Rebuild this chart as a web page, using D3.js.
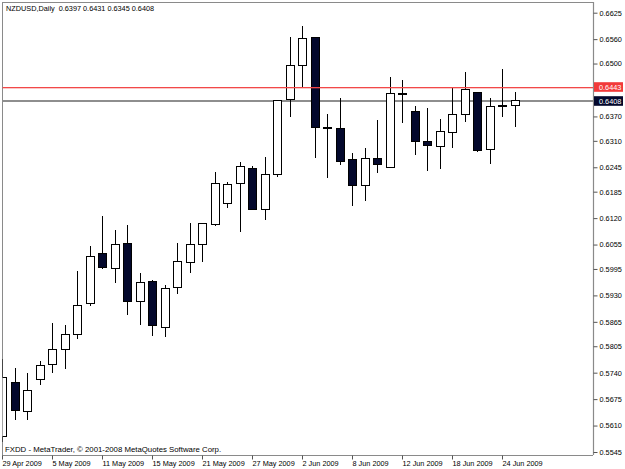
<!DOCTYPE html>
<html>
<head>
<meta charset="utf-8">
<script src="https://cdn.jsdelivr.net/npm/d3@7"></script>
<style>
  html, body { margin: 0; padding: 0; background: #ffffff; }
  svg { display: block; }
  text { font-family: "Liberation Sans", Arial, sans-serif; fill: #000; white-space: pre; }
</style>
</head>
<body>
<svg id="chart" width="625" height="469"></svg>
<script>
// ---- data ----
const dates = ["29 Apr 2009","30 Apr 2009","1 May 2009","4 May 2009","5 May 2009","6 May 2009","7 May 2009","8 May 2009",
  "11 May 2009","12 May 2009","13 May 2009","14 May 2009","15 May 2009","18 May 2009","19 May 2009","20 May 2009",
  "21 May 2009","22 May 2009","25 May 2009","26 May 2009","27 May 2009","28 May 2009","29 May 2009","1 Jun 2009",
  "2 Jun 2009","3 Jun 2009","4 Jun 2009","5 Jun 2009","8 Jun 2009","9 Jun 2009","10 Jun 2009","11 Jun 2009",
  "12 Jun 2009","15 Jun 2009","16 Jun 2009","17 Jun 2009","18 Jun 2009","19 Jun 2009","22 Jun 2009","23 Jun 2009",
  "24 Jun 2009","25 Jun 2009"];
const open  = [0.5583,0.5716,0.5645,0.5724,0.5759,0.5798,0.5833,0.5911,0.6032,0.5997,0.6057,0.5915,0.5965,0.5851,0.5949,0.6011,
  0.6055,0.6105,0.6156,0.6204,0.6243,0.6140,0.6228,0.6412,0.6496,0.6564,0.6342,0.6341,0.6265,0.6200,0.6267,0.6244,
  0.6426,0.6383,0.6309,0.6296,0.6331,0.6375,0.6429,0.6289,0.6396,0.6397];
const high  = [0.5773,0.5751,0.5738,0.5769,0.5863,0.5856,0.5990,0.6052,0.6126,0.6091,0.6103,0.5984,0.5968,0.5955,0.6060,0.6109,
  0.6109,0.6233,0.6208,0.6259,0.6248,0.6271,0.6410,0.6565,0.6592,0.6565,0.6375,0.6415,0.6280,0.6292,0.6361,0.6466,
  0.6460,0.6396,0.6390,0.6363,0.6442,0.6479,0.6429,0.6416,0.6486,0.6431];
const low   = [0.5570,0.5624,0.5624,0.5709,0.5738,0.5748,0.5822,0.5904,0.5994,0.5960,0.5881,0.5857,0.5830,0.5828,0.5933,0.5984,
  0.6013,0.6101,0.6144,0.6086,0.6139,0.6115,0.6222,0.6369,0.6443,0.6267,0.6219,0.6250,0.6150,0.6163,0.6230,0.6243,
  0.6353,0.6275,0.6237,0.6240,0.6292,0.6356,0.6283,0.6252,0.6369,0.6345];
const close = [0.5729,0.5646,0.5697,0.5758,0.5796,0.5833,0.5906,0.6025,0.5998,0.6056,0.5914,0.5962,0.5857,0.5947,0.6014,0.6054,
  0.6107,0.6205,0.6203,0.6246,0.6140,0.6228,0.6408,0.6496,0.6562,0.6342,0.6341,0.6259,0.6201,0.6267,0.6252,0.6427,
  0.6423,0.6308,0.6298,0.6334,0.6375,0.6437,0.6287,0.6394,0.6394,0.6408];
const priceTicks = [0.6625,0.6560,0.6500,0.6370,0.6310,0.6245,0.6185,0.6120,0.6055,0.5995,0.5930,0.5865,0.5805,0.5740,0.5675,0.5610,0.5545];
const dateTicks = ["29 Apr 2009","5 May 2009","11 May 2009","15 May 2009","21 May 2009","27 May 2009","2 Jun 2009","8 Jun 2009","12 Jun 2009","18 Jun 2009","24 Jun 2009"];
const askPrice = 0.6443;
const bidPrice = 0.6408;
const titleText = "NZDUSD,Daily  0.6397 0.6431 0.6345 0.6408";
const footerText = "FXDD - MetaTrader, \u00a9 2001-2008 MetaQuotes Software Corp.";

// ---- layout ----
const L = 2, R = 593, T = 2, B = 455;
const svg = d3.select("#chart");

const x = d3.scaleBand().domain(dates).range([-3.75, -3.75 + 12.5 * dates.length]).paddingInner(0).paddingOuter(0);
const cx = d => x(d) + x.bandwidth() / 2;
const y = d3.scaleLinear().domain([0.5545, 0.6625]).range([452, 12.7]);

const bars = dates.map((d, i) => ({d, o: open[i], h: high[i], l: low[i], c: close[i]}));

svg.append("defs").append("clipPath").attr("id", "plotclip")
  .append("rect").attr("x", L + 0.5).attr("y", T).attr("width", R - L).attr("height", B - T);

// frame
const frame = svg.append("g").attr("shape-rendering", "crispEdges");
frame.append("line").attr("x1", L).attr("x2", R).attr("y1", T + 0.5).attr("y2", T + 0.5).attr("stroke", "#8a8a8a");
frame.append("line").attr("x1", L + 0.5).attr("x2", L + 0.5).attr("y1", T).attr("y2", B).attr("stroke", "#8a8a8a").attr("stroke-width", 1.2);

// bid line (under candles)
const plot = svg.append("g").attr("clip-path", "url(#plotclip)");
plot.append("line").attr("x1", L).attr("x2", R).attr("y1", Math.round(y(bidPrice))).attr("y2", Math.round(y(bidPrice)))
  .style("stroke", "#8e8e8e").style("stroke-width", 1.8);

// candles
const cg = plot.append("g").attr("shape-rendering", "crispEdges");
cg.selectAll("line.wick").data(bars).join("line").attr("class", "wick")
  .attr("x1", b => Math.floor(cx(b.d)) + 0.5).attr("x2", b => Math.floor(cx(b.d)) + 0.5)
  .attr("y1", b => y(b.h)).attr("y2", b => y(b.l))
  .attr("stroke", "#000").attr("stroke-width", 1);
cg.selectAll("rect.body").data(bars).join("rect").attr("class", "body")
  .attr("x", b => Math.floor(cx(b.d)) - 3.5)
  .attr("width", 8)
  .attr("y", b => y(Math.max(b.o, b.c)))
  .attr("height", b => Math.max(0.5, y(Math.min(b.o, b.c)) - y(Math.max(b.o, b.c))))
  .attr("fill", b => b.c >= b.o ? "#ffffff" : "#03082c")
  .attr("stroke", "#000").attr("stroke-width", 1);

// ask line (over candles)
plot.append("rect").attr("x", L).attr("width", R - L).attr("y", Math.round(y(askPrice))).attr("height", 1.3)
  .attr("fill", "#f24848");

// right axis
const yAxis = d3.axisRight(y).tickValues(priceTicks).tickSize(4).tickPadding(2).tickFormat(d3.format(".4f"));
const ya = svg.append("g").attr("transform", `translate(${R + 0.5},0)`).call(yAxis);
ya.select(".domain").attr("d", `M0,${T}V${B}`).attr("stroke", "#8a8a8a").attr("stroke-width", 1.2);
ya.selectAll(".tick line").attr("stroke", "#555");
ya.selectAll(".tick text").style("font-size", "7.3px").attr("fill", "#111");

// bottom axis
const xAxis = d3.axisBottom(x).tickValues(dateTicks).tickSize(4).tickFormat(d => d);
const xa = svg.append("g").attr("transform", `translate(0,${B + 0.5})`).call(xAxis);
xa.select(".domain").attr("d", `M${L},0H${R}`).attr("stroke", "#8a8a8a").attr("stroke-width", 1.2);
xa.selectAll(".tick").attr("transform", d => `translate(${Math.floor(cx(d)) + 0.5},0)`);
xa.selectAll(".tick line").attr("stroke", "#555");
xa.selectAll(".tick text").attr("text-anchor", "start").attr("x", 0).attr("y", 0).attr("dy", "10.3px")
  .style("font-size", "7.3px").attr("fill", "#111");

// price label boxes
function priceBox(p, bg) {
  const g = svg.append("g").attr("transform", `translate(${R + 1},${Math.round(y(p))})`);
  g.append("rect").attr("x", 0).attr("y", -4.8).attr("width", 29).attr("height", 9.6).attr("fill", bg);
  g.append("text").attr("x", 5).attr("y", 0).attr("dy", "0.35em").style("font-size", "7.3px")
    .style("fill", "#ffffff").text(d3.format(".4f")(p));
}
priceBox(askPrice, "#f23a3a");
priceBox(bidPrice, "#03082c");

// texts
svg.append("text").attr("x", 6).attr("y", 11).style("font-size", "7.3px").attr("fill", "#111").text(titleText);
svg.append("text").attr("x", 5).attr("y", 452).style("font-size", "7.8px").attr("fill", "#111").text(footerText);
</script>
</body>
</html>
